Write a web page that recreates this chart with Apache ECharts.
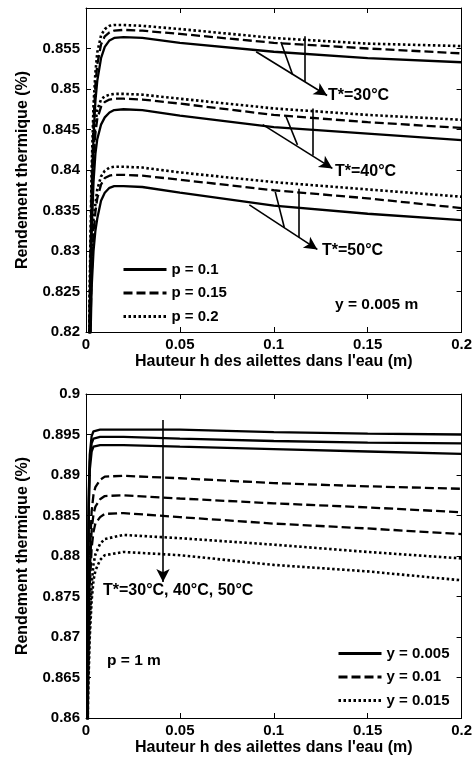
<!DOCTYPE html>
<html>
<head>
<meta charset="utf-8">
<script src="https://cdn.jsdelivr.net/npm/echarts@6/dist/echarts.min.js"></script>
<style>
  html, body { margin: 0; padding: 0; background: #fff; }
  #main { width: 475px; height: 763px; }
</style>
</head>
<body>
<div id="main"></div>
<script>
// hauteur h des ailettes (m)
var hTop = [0.0015, 0.002, 0.003, 0.004, 0.005, 0.006, 0.008, 0.01, 0.0125, 0.015, 0.02, 0.03, 0.05, 0.1, 0.15, 0.2];
var hBot = [0.0005, 0.001, 0.0015, 0.002, 0.003, 0.004, 0.005, 0.0075, 0.01, 0.02, 0.05, 0.1, 0.15, 0.2];

// graphe du haut : y = 0.005 m
var t30_p01  = [0.81, 0.822, 0.836, 0.844, 0.8485, 0.851, 0.8538, 0.8552, 0.856, 0.8563, 0.8564, 0.8563, 0.8557, 0.8546, 0.8538, 0.8533];
var t30_p015 = [0.813, 0.824, 0.838, 0.846, 0.8505, 0.853, 0.8555, 0.8565, 0.857, 0.8572, 0.8573, 0.8572, 0.8568, 0.8557, 0.855, 0.8544];
var t30_p02  = [0.815, 0.826, 0.84, 0.848, 0.852, 0.8545, 0.8566, 0.8574, 0.8578, 0.8579, 0.8579, 0.8578, 0.8574, 0.8563, 0.8556, 0.8553];
var t40_p01  = [0.808, 0.82, 0.832, 0.8385, 0.842, 0.8438, 0.8456, 0.8465, 0.8471, 0.8474, 0.8475, 0.8474, 0.8467, 0.8453, 0.8445, 0.8437];
var t40_p015 = [0.81, 0.822, 0.8345, 0.841, 0.8445, 0.8463, 0.8478, 0.8484, 0.8487, 0.8488, 0.8488, 0.8487, 0.8482, 0.8468, 0.8459, 0.8452];
var t40_p02  = [0.812, 0.824, 0.836, 0.8425, 0.8457, 0.8474, 0.8487, 0.8491, 0.8493, 0.8494, 0.8494, 0.8493, 0.8488, 0.8476, 0.8468, 0.8462];
var t50_p01  = [0.805, 0.815, 0.8255, 0.83, 0.8325, 0.834, 0.8362, 0.8372, 0.8378, 0.838, 0.838, 0.8379, 0.8372, 0.8356, 0.8346, 0.8338];
var t50_p015 = [0.807, 0.817, 0.827, 0.832, 0.8348, 0.8365, 0.8382, 0.839, 0.8393, 0.8394, 0.8394, 0.8393, 0.8388, 0.8375, 0.8365, 0.8353];
var t50_p02  = [0.809, 0.819, 0.829, 0.834, 0.8358, 0.8376, 0.8392, 0.8399, 0.8403, 0.8404, 0.8404, 0.8403, 0.8397, 0.8385, 0.8376, 0.8367];

// graphe du bas : p = 1 m
var y005_a = [0.845, 0.875, 0.888, 0.8925, 0.8948, 0.8954, 0.8955, 0.8956, 0.8956, 0.8956, 0.8956, 0.8953, 0.8951, 0.895];
var y005_b = [0.844, 0.874, 0.887, 0.8916, 0.8939, 0.8945, 0.8946, 0.8947, 0.8947, 0.8947, 0.8945, 0.8942, 0.894, 0.8939];
var y005_c = [0.843, 0.873, 0.886, 0.8906, 0.8929, 0.8935, 0.8936, 0.8937, 0.8937, 0.8937, 0.8935, 0.8932, 0.8929, 0.8926];
var y01_a  = [0.84, 0.866, 0.875, 0.88, 0.8855, 0.8876, 0.8885, 0.8894, 0.8898, 0.8899, 0.8896, 0.889, 0.8886, 0.8883];
var y01_b  = [0.839, 0.865, 0.873, 0.878, 0.8832, 0.8852, 0.8861, 0.887, 0.8874, 0.8875, 0.8871, 0.8865, 0.886, 0.8854];
var y01_c  = [0.838, 0.864, 0.871, 0.876, 0.881, 0.883, 0.884, 0.8848, 0.8852, 0.8853, 0.8848, 0.884, 0.8834, 0.8827];
var y015_a = [0.835, 0.862, 0.868, 0.872, 0.8765, 0.879, 0.8802, 0.8815, 0.8821, 0.8826, 0.8822, 0.8814, 0.8805, 0.8797];
var y015_b = [0.834, 0.861, 0.866, 0.87, 0.8745, 0.877, 0.8782, 0.8795, 0.8801, 0.8805, 0.8801, 0.8789, 0.8781, 0.877];

var legendTop = ['p = 0.1', 'p = 0.15', 'p = 0.2'];
var legendBot = ['y = 0.005', 'y = 0.01', 'y = 0.015'];

var FONT = 'Liberation Sans, Arial, sans-serif';
var styles = {
    solid: { type: 'solid', width: 2.3 },
    dash: { type: [9, 4], width: 2.3 },
    dot: { type: [2.5, 2.5], width: 2.6 }
};

function pairs(xs, ys) {
    return xs.map(function (x, i) { return [x, ys[i]]; });
}

function serie(name, xs, ys, st, g) {
    return {
        name: name,
        type: 'line',
        xAxisIndex: g * 2,
        yAxisIndex: g * 2,
        data: pairs(xs, ys),
        symbol: 'none',
        clip: true,
        silent: true,
        color: '#000',
        lineStyle: { color: '#000', type: styles[st].type, width: styles[st].width }
    };
}

function seg(a, b, arrow) {
    return [{ coord: a, symbol: 'none' }, { coord: b, symbol: arrow ? 'arrow' : 'none' }];
}

var series = [
    serie(legendTop[0], hTop, t30_p01, 'solid', 0),
    serie(legendTop[1], hTop, t30_p015, 'dash', 0),
    serie(legendTop[2], hTop, t30_p02, 'dot', 0),
    serie(legendTop[0], hTop, t40_p01, 'solid', 0),
    serie(legendTop[1], hTop, t40_p015, 'dash', 0),
    serie(legendTop[2], hTop, t40_p02, 'dot', 0),
    serie(legendTop[0], hTop, t50_p01, 'solid', 0),
    serie(legendTop[1], hTop, t50_p015, 'dash', 0),
    serie(legendTop[2], hTop, t50_p02, 'dot', 0),
    serie(legendBot[0], hBot, y005_a, 'solid', 1),
    serie(legendBot[0], hBot, y005_b, 'solid', 1),
    serie(legendBot[0], hBot, y005_c, 'solid', 1),
    serie(legendBot[1], hBot, y01_a, 'dash', 1),
    serie(legendBot[1], hBot, y01_b, 'dash', 1),
    serie(legendBot[1], hBot, y01_c, 'dash', 1),
    serie(legendBot[2], hBot, y015_a, 'dot', 1),
    serie(legendBot[2], hBot, y015_b, 'dot', 1)
];

var markBase = {
    silent: true,
    animation: false,
    symbolSize: [10, 13],
    label: { show: false },
    lineStyle: { color: '#000', width: 1.6, type: 'solid' }
};

series[0].markLine = Object.assign({}, markBase, {
    data: [
        seg([0.0906, 0.8546], [0.1284, 0.8492], true),
        seg([0.1038, 0.8558], [0.1100, 0.8518]),
        seg([0.1166, 0.8565], [0.1166, 0.8509]),
        seg([0.0941, 0.8456], [0.1312, 0.8402], true),
        seg([0.1065, 0.8466], [0.1126, 0.8431]),
        seg([0.1206, 0.8476], [0.1206, 0.8418]),
        seg([0.0870, 0.8357], [0.1232, 0.8302], true),
        seg([0.1008, 0.8373], [0.1056, 0.8329]),
        seg([0.1135, 0.8377], [0.1135, 0.8317])
    ]
});
series[9].markLine = Object.assign({}, markBase, {
    data: [seg([0.041, 0.8968], [0.041, 0.8768], true)]
});

function xAx(g, bottom, name) {
    return {
        type: 'value', gridIndex: g, position: bottom ? 'bottom' : 'top',
        min: 0, max: 0.2, interval: 0.05,
        name: bottom ? name : '', nameLocation: 'middle', nameGap: 22,
        nameTextStyle: { color: '#000', fontFamily: FONT, fontWeight: 'bold', fontSize: 16 },
        axisLine: { show: true, onZero: false, lineStyle: { color: '#000', width: 1 } },
        axisTick: { show: true, inside: true, length: 5, lineStyle: { color: '#000' } },
        axisLabel: { show: bottom, color: '#000', fontFamily: FONT, fontWeight: 'bold', fontSize: 15, margin: 5 },
        splitLine: { show: false }
    };
}

function yAx(g, left, min, max, showMax) {
    return {
        type: 'value', gridIndex: g, position: left ? 'left' : 'right',
        min: min, max: max, interval: 0.005,
        name: left ? 'Rendement thermique (%)' : '', nameLocation: 'middle', nameGap: 55,
        nameTextStyle: { color: '#000', fontFamily: FONT, fontWeight: 'bold', fontSize: 16 },
        axisLine: { show: true, onZero: false, lineStyle: { color: '#000', width: 1 } },
        axisTick: { show: true, inside: true, length: 5, lineStyle: { color: '#000' } },
        axisLabel: { show: left, showMaxLabel: showMax, color: '#000', fontFamily: FONT, fontWeight: 'bold', fontSize: 15, margin: 6 },
        splitLine: { show: false }
    };
}

var xName = "Hauteur h des ailettes dans l'eau (m)";

function txt(x, y, s, size) {
    return {
        type: 'text', left: x, top: y - size * 0.6, silent: true,
        style: { text: s, fill: '#000', font: 'bold ' + size + 'px ' + FONT }
    };
}

var legendCommon = {
    orient: 'vertical', itemWidth: 43, itemHeight: 14, itemGap: 8.5,
    selectedMode: false,
    itemStyle: { opacity: 0 },
    lineStyle: { width: 3 },
    textStyle: { color: '#000', fontFamily: FONT, fontWeight: 'bold', fontSize: 15 }
};

var chart = echarts.init(document.getElementById('main'), null, { renderer: 'canvas' });
chart.setOption({
    animation: false,
    backgroundColor: '#fff',
    grid: [
        { left: 86, top: 8, width: 377, height: 324 },
        { left: 86, top: 394, width: 377, height: 324 }
    ],
    xAxis: [xAx(0, true, xName), xAx(0, false), xAx(1, true, xName), xAx(1, false)],
    yAxis: [yAx(0, true, 0.82, 0.86, false), yAx(0, false, 0.82, 0.86), yAx(1, true, 0.86, 0.9, true), yAx(1, false, 0.86, 0.9)],
    legend: [
        Object.assign({ data: legendTop, left: 117, top: 257 }, legendCommon),
        Object.assign({ data: legendBot, left: 332, top: 641 }, legendCommon)
    ],
    graphic: [
        txt(328, 97, 'T*=30°C', 16),
        txt(335, 173, 'T*=40°C', 16),
        txt(322, 252, 'T*=50°C', 16),
        txt(335, 306, 'y = 0.005 m', 15.5),
        txt(103, 592, 'T*=30°C, 40°C, 50°C', 16),
        txt(107, 662, 'p = 1 m', 15.5)
    ],
    series: series
});
</script>
</body>
</html>
